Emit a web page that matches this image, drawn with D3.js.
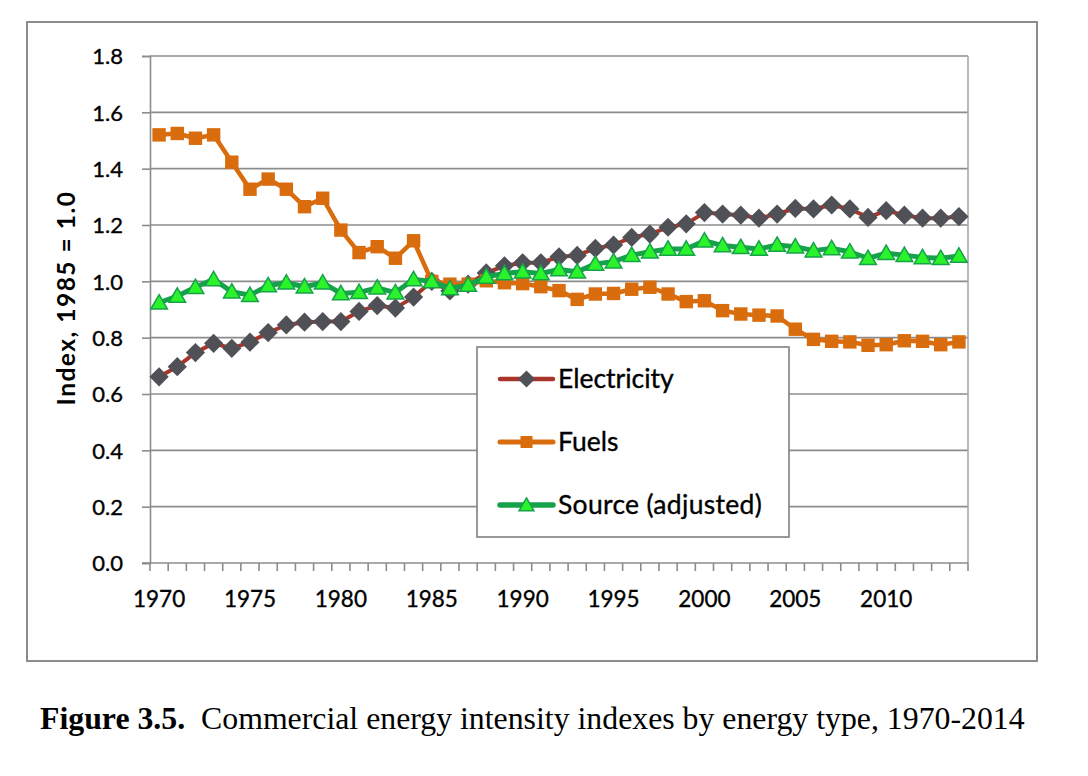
<!DOCTYPE html>
<html>
<head>
<meta charset="utf-8">
<script src="https://cdn.jsdelivr.net/npm/d3@7"></script>
<style>
  html, body { margin: 0; padding: 0; background: #fff; }
  svg { display: block; }
</style>
</head>
<body>
<svg id="chart" width="1088" height="776"></svg>
<script>
// ---- Data ----
const years = d3.range(1970, 2015);
const electricity = [0.661, 0.697, 0.747, 0.780, 0.762, 0.784, 0.818, 0.845, 0.855, 0.857,
  0.857, 0.893, 0.914, 0.905, 0.944, 1.000, 0.966, 0.990, 1.030, 1.055,
  1.066, 1.066, 1.087, 1.092, 1.117, 1.129, 1.156, 1.168, 1.192, 1.204,
  1.244, 1.239, 1.235, 1.224, 1.239, 1.259, 1.257, 1.271, 1.257, 1.227,
  1.251, 1.235, 1.224, 1.224, 1.230];
const fuels = [1.520, 1.525, 1.508, 1.520, 1.423, 1.327, 1.363, 1.327, 1.265, 1.295,
  1.182, 1.102, 1.123, 1.082, 1.144, 1.000, 0.990, 0.990, 1.002, 0.995,
  0.992, 0.981, 0.967, 0.936, 0.955, 0.957, 0.972, 0.979, 0.955, 0.928,
  0.931, 0.896, 0.884, 0.880, 0.877, 0.830, 0.794, 0.787, 0.785, 0.773,
  0.775, 0.789, 0.787, 0.775, 0.785];
const source = [0.924, 0.948, 0.979, 1.007, 0.963, 0.951, 0.985, 0.995, 0.981, 0.995,
  0.957, 0.961, 0.977, 0.960, 1.007, 1.000, 0.975, 0.987, 1.016, 1.028,
  1.034, 1.028, 1.042, 1.034, 1.062, 1.070, 1.093, 1.105, 1.115, 1.115,
  1.144, 1.127, 1.121, 1.115, 1.129, 1.123, 1.109, 1.117, 1.105, 1.082,
  1.100, 1.093, 1.085, 1.082, 1.090];
const seriesNames = ["Electricity", "Fuels", "Source (adjusted)"];
const yTicks = [0, 0.2, 0.4, 0.6, 0.8, 1.0, 1.2, 1.4, 1.6, 1.8];
const xLabelYears = [1970, 1975, 1980, 1985, 1990, 1995, 2000, 2005, 2010];
const yTitle = "Index, 1985 = 1.0";
const captionBold = "Figure 3.5.";
const captionText = "Commercial energy intensity indexes by energy type, 1970-2014";

// ---- Styles ----
const styles = [
  { line: "#A9352A", lw: 4, symbol: d3.symbolSquare, rot: 45, size: 185, fill: "#4F5156", stroke: "#4F5156", sw: 0, dy: 0 },
  { line: "#D96C0C", lw: 4.5, symbol: d3.symbolSquare, rot: 0, size: 180, fill: "#D96C0C", stroke: "#D96C0C", sw: 0, dy: 0 },
  { line: "#16A24A", lw: 5, symbol: d3.symbolTriangle, rot: 0, size: 120, fill: "#2BF22B", stroke: "#16A24A", sw: 1.5, dy: 1.5 }
];
const seriesData = [electricity, fuels, source];

const svg = d3.select("#chart");
const plotL = 150, plotR = 968, plotT = 56, plotB = 563;

// Outer frame
svg.append("rect").attr("x", 27).attr("y", 22).attr("width", 1010).attr("height", 639)
  .attr("fill", "#fff").attr("stroke", "#8C8C8C").attr("stroke-width", 2);

const x = d3.scaleBand().domain(years).range([plotL, plotR]).padding(0);
const xc = yr => x(yr) + x.bandwidth() / 2;
const y = d3.scaleLinear().domain([0, 1.8]).range([plotB, plotT]);

const font = "Lato, 'Open Sans', sans-serif";
const thick = sel => sel.attr("stroke", "#000").attr("stroke-width", 0.35);

// Gridlines
svg.append("g").selectAll("line").data(yTicks.filter(t => t > 0)).join("line")
  .attr("x1", plotL).attr("x2", plotR)
  .attr("y1", d => y(d)).attr("y2", d => y(d))
  .attr("stroke", "#8C8C8C").attr("stroke-width", 1.6);

// Right border line
svg.append("line").attr("x1", plotR).attr("x2", plotR).attr("y1", plotT).attr("y2", plotB)
  .attr("stroke", "#A8A8A8").attr("stroke-width", 1.6);

// Y axis
const yAxis = svg.append("g").attr("transform", `translate(${plotL},0)`)
  .call(d3.axisLeft(y).tickValues(yTicks).tickFormat(d3.format(".1f")).tickSize(8).tickPadding(19));
yAxis.select(".domain").attr("stroke", "#8C8C8C").attr("stroke-width", 1.6);
yAxis.selectAll(".tick line").attr("stroke", "#8C8C8C").attr("stroke-width", 1.6);
yAxis.selectAll(".tick text").attr("font-family", font).attr("font-size", 22).attr("fill", "#000")
  .attr("dy", "0.36em").call(thick);

// X axis baseline and category boundary ticks
const xg = svg.append("g");
xg.append("line").attr("x1", plotL - 8).attr("x2", plotR).attr("y1", plotB).attr("y2", plotB)
  .attr("stroke", "#8C8C8C").attr("stroke-width", 1.6);
const boundaries = years.map(yr => x(yr)).concat([x(years[years.length - 1]) + x.bandwidth()]);
xg.selectAll("line.tk").data(boundaries).join("line").attr("class", "tk")
  .attr("x1", d => d).attr("x2", d => d).attr("y1", plotB).attr("y2", plotB + 8)
  .attr("stroke", "#8C8C8C").attr("stroke-width", 1.6);
xg.selectAll("text").data(xLabelYears).join("text")
  .attr("x", d => xc(d)).attr("y", 606.5)
  .attr("text-anchor", "middle").attr("font-family", font).attr("font-size", 22.5).attr("fill", "#000")
  .text(d => d).call(thick);

// Y title
svg.append("text").attr("transform", "translate(75,298) rotate(-90)")
  .attr("text-anchor", "middle").attr("font-family", font).attr("font-weight", "bold")
  .attr("font-size", 24.5).attr("letter-spacing", 1.5).attr("fill", "#000").text(yTitle);

// Series
const line = d3.line().x((d, i) => xc(years[i])).y(d => y(d));
seriesData.forEach((vals, si) => {
  const st = styles[si];
  const g = svg.append("g");
  g.append("path").datum(vals).attr("d", line).attr("fill", "none")
    .attr("stroke", st.line).attr("stroke-width", st.lw).attr("stroke-linejoin", "round");
  const sym = d3.symbol().type(st.symbol).size(st.size);
  g.selectAll("path.m").data(vals).join("path").attr("class", "m")
    .attr("transform", (d, i) => `translate(${xc(years[i])},${y(d) + st.dy}) rotate(${st.rot})`)
    .attr("d", sym()).attr("fill", st.fill).attr("stroke", st.stroke).attr("stroke-width", st.sw);
});

// Legend
const lg = svg.append("g");
lg.append("rect").attr("x", 477).attr("y", 347).attr("width", 312).attr("height", 190)
  .attr("fill", "#fff").attr("stroke", "#808080").attr("stroke-width", 1.6);
const legendY = [379, 442, 505];
seriesNames.forEach((name, si) => {
  const st = styles[si];
  const ly = legendY[si];
  lg.append("line").attr("x1", 500).attr("x2", 553).attr("y1", ly).attr("y2", ly)
    .attr("stroke", st.line).attr("stroke-width", st.lw + 0.5).attr("stroke-linecap", "round");
  lg.append("path").attr("transform", `translate(526.5,${ly + st.dy}) rotate(${st.rot})`)
    .attr("d", d3.symbol().type(st.symbol).size(st.size * 0.8)()).attr("fill", st.fill)
    .attr("stroke", st.stroke).attr("stroke-width", st.sw);
  lg.append("text").attr("x", 558).attr("y", ly + 9).attr("font-family", font)
    .attr("font-size", 26.5).attr("letter-spacing", si === 2 ? 0.3 : 0).attr("fill", "#000").text(name).call(thick);
});

// Caption
const cap = svg.append("text").attr("x", 40).attr("y", 729)
  .attr("font-family", "'Liberation Serif', 'Times New Roman', serif").attr("font-size", 26).attr("fill", "#000");
cap.append("tspan").attr("font-weight", "bold").text(captionBold);
cap.append("tspan").text("\u00a0\u00a0" + captionText);
// fit caption width to reference span (~985px)
const w = cap.node().getComputedTextLength();
cap.attr("font-size", 26 * 985 / w);
</script>
</body>
</html>
